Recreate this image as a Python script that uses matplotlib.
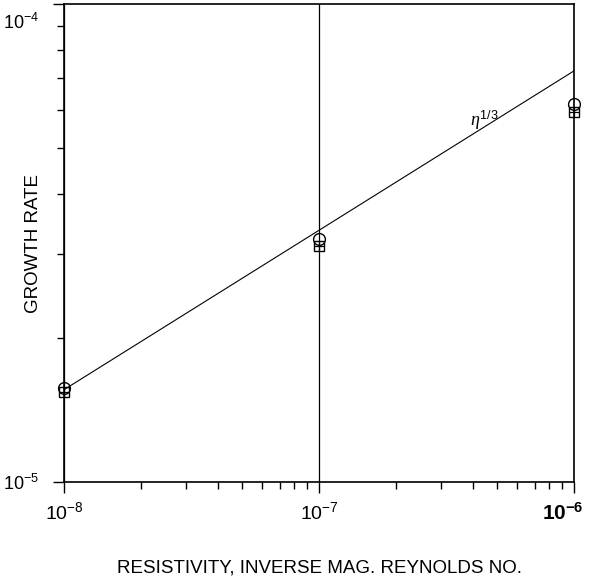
import matplotlib.pyplot as plt
import matplotlib.transforms as mtransforms
import numpy as np
from matplotlib.ticker import LogLocator, NullFormatter, FixedFormatter, FixedLocator

plt.rcParams['font.family'] = ['Liberation Sans', 'DejaVu Sans']
plt.rcParams['mathtext.fontset'] = 'custom'
plt.rcParams['mathtext.rm'] = 'Liberation Sans'
plt.rcParams['mathtext.bf'] = 'Liberation Sans:bold'
plt.rcParams['mathtext.it'] = 'Liberation Serif:italic'

# growth rates vs resistivity, two runs
resistivity = [1e-8, 1e-7, 1e-6]
rate_circle = [1.575e-5, 3.22e-5, 6.17e-5]
rate_square = [1.54e-5, 3.12e-5, 5.94e-5]

# eta^(1/3) scaling line end points
fit_eta = [1e-8, 1e-6]
fit_rate = [1.56e-5, 7.25e-5]

x_ticks = [1e-8, 1e-7, 1e-6]
x_labels = [r'$\mathregular{10^{-8}}$', r'$\mathregular{10^{-7}}$', r'$\mathbf{10^{-6}}$']
y_ticks = [1e-5, 1e-4]
y_labels = [r'$\mathregular{10^{-5}}$', r'$\mathregular{10^{-4}}$']

fig = plt.figure(figsize=(5.9, 5.86), dpi=100)
ax = fig.add_axes([0.1085, 0.1775, 0.8645, 0.8155])

ax.plot(fit_eta, fit_rate, color='black', lw=0.8)
ax.plot(resistivity, rate_circle, 'o', ms=8.5, mfc='none', mec='black', mew=1.0, clip_on=False)
ax.plot(resistivity, rate_square, 's', ms=6.5, mfc='none', mec='black', mew=1.0, clip_on=False)
ax.plot(resistivity, rate_square, '+', ms=6.5, color='black', mew=0.9, clip_on=False)

ax.set_xscale('log')
ax.set_yscale('log')
ax.set_xlim(1e-8, 1e-6)
ax.set_ylim(1e-5, 1e-4)

ax.xaxis.set_major_locator(FixedLocator(x_ticks))
ax.xaxis.set_major_formatter(FixedFormatter(x_labels))
ax.yaxis.set_major_locator(FixedLocator(y_ticks))
ax.yaxis.set_major_formatter(FixedFormatter(y_labels))
ax.xaxis.set_minor_locator(LogLocator(base=10, subs=np.arange(2, 10)))
ax.yaxis.set_minor_locator(LogLocator(base=10, subs=np.arange(2, 10)))
ax.xaxis.set_minor_formatter(NullFormatter())
ax.yaxis.set_minor_formatter(NullFormatter())

ax.tick_params(which='major', direction='out', length=8, width=1.0, pad=6)
ax.tick_params(which='minor', direction='out', length=5, width=1.0)
ax.tick_params(axis='x', which='major', labelsize=14)
ax.tick_params(axis='y', which='major', labelsize=13, pad=10)

ax.grid(True, which='major', axis='x', color='black', lw=0.9)
for s in ax.spines.values():
    s.set_linewidth(1.2)

fig.canvas.draw()
# nudge edge labels so they stay inside the figure
xl = ax.get_xticklabels()
xl[-1].set_fontsize(15)
xl[-1].set_transform(xl[-1].get_transform() + mtransforms.ScaledTranslation(-8 / 72, 0, fig.dpi_scale_trans))
yl = ax.get_yticklabels()
yl[-1].set_transform(yl[-1].get_transform() + mtransforms.ScaledTranslation(0, -12 / 72, fig.dpi_scale_trans))

ax.text(3.9e-7, 5.57e-5, r'$\eta^{1/3}$', fontsize=13, va='baseline')

ax.set_xlabel('RESISTIVITY, INVERSE MAG. REYNOLDS NO.', fontsize=13.5, labelpad=26)
ax.set_ylabel('GROWTH RATE', fontsize=13.5)
ax.yaxis.set_label_coords(-0.043, 0.5)

plt.savefig('out.png', dpi=100)
